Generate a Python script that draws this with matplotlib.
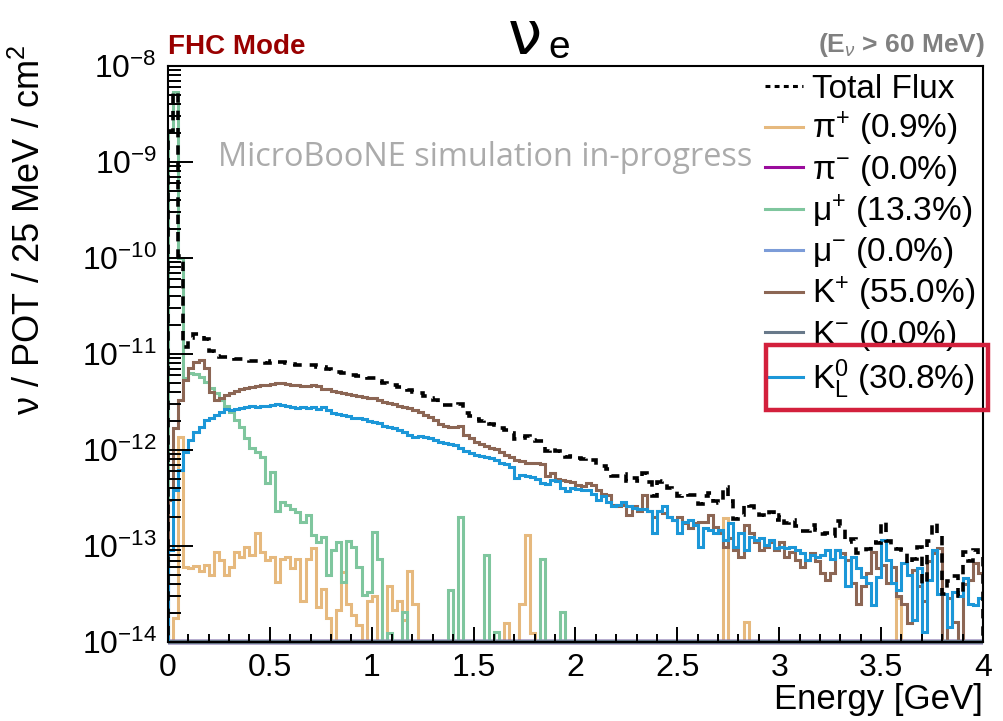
import numpy as np
import matplotlib
matplotlib.use("Agg")
import matplotlib.pyplot as plt
from matplotlib.lines import Line2D
from matplotlib.patches import Rectangle
from matplotlib.ticker import (MultipleLocator, LogLocator, FixedLocator,
                               NullFormatter, FuncFormatter)

plt.rcParams['font.family'] = ['Liberation Sans', 'DejaVu Sans']
plt.rcParams['mathtext.fontset'] = 'custom'
plt.rcParams['mathtext.rm'] = 'Liberation Sans'
plt.rcParams['mathtext.it'] = 'Liberation Sans:italic'
plt.rcParams['mathtext.bf'] = 'Liberation Sans:bold'

# nu_e flux per parent, 25 MeV bins from 0 to 4 GeV,
# in units of 1e-14 nu / POT / 25 MeV / cm^2
UNIT = 1e-14
bin_edges = np.linspace(0.0, 4.0, 161)

pi_plus = [
    0, 1.76, 138, 6.1, 5.9, 6.2, 5.5, 6.3, 5.0, 8.7,
    7.1, 5.0, 6.1, 8.7, 7.7, 9.8, 8.1, 13.5, 8.7, 7.1,
    7.7, 4.25, 7.4, 7.7, 5.9, 7.4, 2.7, 7.4, 9.5, 2.3,
    3.6, 1.76, 0, 2.15, 5.4, 2.5, 1.9, 1.5, 0, 2.7,
    3.0, 0, 0, 3.8, 2.15, 2.7, 1.7, 5.5, 2.5, 0,
    0, 0, 0, 0, 0, 0, 0, 0, 0, 0,
    0, 0, 0, 0, 0, 0, 1.56, 0, 0, 2.5,
    13, 1.23, 0, 0, 0, 0, 0, 0, 0, 0,
    0, 0, 0, 0, 0, 0, 0, 0, 0, 0,
    0, 0, 0, 0, 0, 0, 0, 0, 0, 0,
    0, 0, 0, 0, 0, 0, 0, 0, 0, 19.5,
    0, 0, 0, 1.6, 0, 0, 0, 0, 0, 0,
    0, 0, 0, 0, 0, 0, 0, 0, 0, 0,
    0, 0, 0, 0, 0, 0, 0, 0, 0, 0,
    0, 0, 0, 2.9, 0, 0, 0, 0, 0, 0,
    0, 0, 0, 0, 0, 0, 0, 0, 0, 0,
]

mu_plus = [
    210000, 540000, 10000, 557, 628, 620, 580, 515, 439, 389,
    332, 287, 251, 205, 175, 132, 104, 96, 85, 45,
    59, 23, 28.5, 26.5, 24, 22.5, 17.9, 21, 13, 11.1,
    12.5, 5.0, 9.1, 11.1, 4.25, 11.3, 9.8, 6.1, 3.1, 3.3,
    14.1, 7.4, 0, 1.23, 0, 0, 2.07, 0, 0, 0,
    0, 0, 0, 0, 0, 3.5, 0, 20, 0, 0,
    0, 0, 8.1, 0, 1.28, 0, 0, 0, 0, 0,
    0, 0, 0, 7.4, 0, 0, 0, 2.07, 0, 0,
] + [0] * 80

k_plus = [
    30, 170, 330, 535, 710, 830, 870, 710, 405, 330,
    350, 370, 395, 415, 430, 440, 450, 460, 470, 475,
    485, 495, 495, 485, 470, 475, 465, 460, 470, 460,
    435, 430, 415, 405, 390, 380, 375, 365, 360, 350,
    345, 330, 320, 310, 300, 287, 278, 272, 261, 251,
    231, 220, 205, 187, 178, 175, 172, 178, 143, 132,
    122, 115, 110, 106, 102, 96, 89, 85, 79, 76,
    74, 73, 73, 72, 54, 57, 50, 49, 48, 46,
    43, 42, 45, 43, 38, 35, 34, 27, 26, 27,
    21, 26, 23, 34, 23, 20, 23, 22, 20, 18.7,
    20, 17.2, 15.3, 17.2, 17.9, 17.9, 21, 15.9, 13.5, 9.8,
    12, 9.1, 7.7, 16.5, 13.5, 11.1, 9.1, 9.8, 11.1, 9.1,
    11.1, 7.7, 8.7, 7.1, 6.1, 7.1, 8.4, 6.9, 5.2, 4.4,
    5.2, 9.1, 8.4, 7.1, 4.1, 2.5, 3.8, 5.2, 8.7, 5.9,
    6.3, 4.1, 6.1, 3.0, 2.5, 1.56, 5.6, 3.8, 2.7, 6.9,
    8.4, 9.5, 0, 2.9, 1.6, 0, 4.0, 4.4, 6.6, 5.2,
]

k_long = [
    9.1, 38, 62, 96, 127, 155, 175, 205, 214, 231,
    251, 265, 261, 265, 272, 278, 287, 283, 287, 287,
    294, 300, 294, 287, 278, 272, 278, 272, 283, 265,
    278, 261, 241, 235, 231, 225, 218, 214, 209, 202,
    197, 190, 178, 172, 168, 161, 155, 143, 135, 140,
    138, 132, 127, 122, 119, 115, 112, 104, 98, 92,
    89, 87, 85, 82, 79, 74, 72, 67, 51, 55,
    54, 52, 50, 45, 44, 49, 48, 40, 37, 40,
    39, 38, 38, 35, 30, 33, 29, 26, 27, 29,
    26, 25, 24, 24, 23, 13.5, 23, 26, 20, 18.7,
    13.5, 17.9, 18.7, 16.5, 9.8, 15.3, 14.7, 13.5, 14.7, 11.5,
    17.2, 9.8, 13.5, 9.1, 12.5, 11.5, 12, 10.2, 11.5, 9.5,
    9.8, 9.5, 9.8, 9.1, 8.4, 7.1, 8.1, 7.7, 8.1, 9.1,
    7.4, 9.1, 7.7, 3.8, 7.7, 5.9, 4.8, 4.1, 2.4, 4.8,
    11.5, 7.1, 4.1, 3.5, 6.6, 5.0, 1.7, 5.9, 1.28, 4.4,
    9.1, 3.2, 3.2, 1.44, 3.3, 3.0, 4.6, 2.5, 2.4, 2.85,
]

# no contribution from the negative parents
pi_minus = [0] * 160
mu_minus = [0] * 160
k_minus = [0] * 160

parents = [
    ('π$^{+}$ (0.9%)', pi_plus, '#E6B97E'),
    ('π$^{-}$ (0.0%)', pi_minus, '#9A0C9C'),
    ('μ$^{+}$ (13.3%)', mu_plus, '#7FC69E'),
    ('μ$^{-}$ (0.0%)', mu_minus, '#7C9CD8'),
    ('K$^{+}$ (55.0%)', k_plus, '#8C6654'),
    ('K$^{-}$ (0.0%)', k_minus, '#68798A'),
    (r'K$_{\mathrm{L}}^{0}$ (30.8%)', k_long, '#1C97D8'),
]

Y_MIN, Y_MAX = 1e-14, 1e-8
LW = 2.2

fig = plt.figure(figsize=(10.04, 7.21), dpi=100)
W, H = 1004.0, 721.0
ax = fig.add_axes([168 / W, 1 - 642 / H, (983 - 168) / W, (642 - 66) / H])
ax.set_yscale('log')

total = np.zeros(160)
handles = [Line2D([], [], color='black', lw=LW, ls=(0, (1.6, 1.4)))]
labels = ['Total Flux']
for label, vals, color in parents:
    vals = np.asarray(vals, dtype=float) * UNIT
    total += vals
    if vals.any():
        ax.stairs(np.where(vals > 0, vals, 1e-30), bin_edges, baseline=1e-30,
                  color=color, lw=LW)
    else:
        # empty histograms sit on the lower edge of the frame
        ax.stairs(np.maximum(vals, Y_MIN), bin_edges, baseline=None,
                  color=color, lw=LW + 1, clip_on=False)
    handles.append(Line2D([], [], color=color, lw=LW))
    labels.append(label)

ax.stairs(total, bin_edges, baseline=1e-30, color='black', lw=LW + 0.4,
          ls=(0, (2.6, 2.2)), zorder=5)

ax.set_xlim(0, 4)
ax.set_ylim(Y_MIN, Y_MAX)

ax.xaxis.set_major_locator(MultipleLocator(0.5))
ax.xaxis.set_minor_locator(MultipleLocator(0.1))
ax.xaxis.set_major_formatter(FuncFormatter(lambda v, _: f'{v:g}'))
ax.yaxis.set_major_locator(FixedLocator(10.0 ** np.arange(-14, -7)))
ax.yaxis.set_minor_locator(LogLocator(base=10, subs=np.arange(2, 10), numticks=20))
ax.yaxis.set_minor_formatter(NullFormatter())

ax.tick_params(which='both', direction='in', width=1.4, labelsize=23,
               top=False, right=False)
ax.tick_params(axis='y', which='major', length=18, pad=8)
ax.tick_params(axis='y', which='minor', length=9)
ax.tick_params(axis='x', which='major', length=11, pad=8)
ax.tick_params(axis='x', which='minor', length=5.5)
for sp in ax.spines.values():
    sp.set_linewidth(1.5)

fig.text(983 / W, 1 - 700 / H, 'Energy [GeV]', ha='right', va='center', fontsize=25)
fig.text(30 / W, 1 - 45 / H, r'ν / POT / 25 MeV / cm$^{2}$', rotation=90,
         ha='center', va='top', fontsize=26)

fig.text(168 / W, 1 - 47 / H, 'FHC Mode', color='#990000', fontweight='bold',
         fontsize=20, ha='left', va='center')
fig.text(985 / W, 1 - 45 / H, '(E$_{ν}$ > 60 MeV)', color='#808080',
         fontweight='bold', fontsize=19, ha='right', va='center')
fig.text(525 / W, 1 - 38 / H, 'ν', fontsize=44, ha='center', va='center',
         family='DejaVu Sans')
fig.text(548 / W, 1 - 48 / H, 'e', fontsize=28, ha='left', va='center')
fig.text(218 / W, 1 - 157 / H, 'MicroBooNE simulation in-progress',
         color='#ABABAB', fontsize=23.4, family='Open Sans', ha='left', va='center')

ax.legend(handles, labels, loc='upper left', bbox_to_anchor=(765 / W, 1 - 74 / H),
          bbox_transform=fig.transFigure, frameon=False, fontsize=24,
          handlelength=1.15, handletextpad=0.27, labelspacing=0.14, borderpad=0,
          borderaxespad=0)

fig.patches.append(Rectangle((766 / W, 1 - 410 / H), 222 / W, 65 / H,
                             transform=fig.transFigure, fill=False,
                             edgecolor='#D3203C', lw=3.2, zorder=10))

fig.savefig('out.png', dpi=100)
